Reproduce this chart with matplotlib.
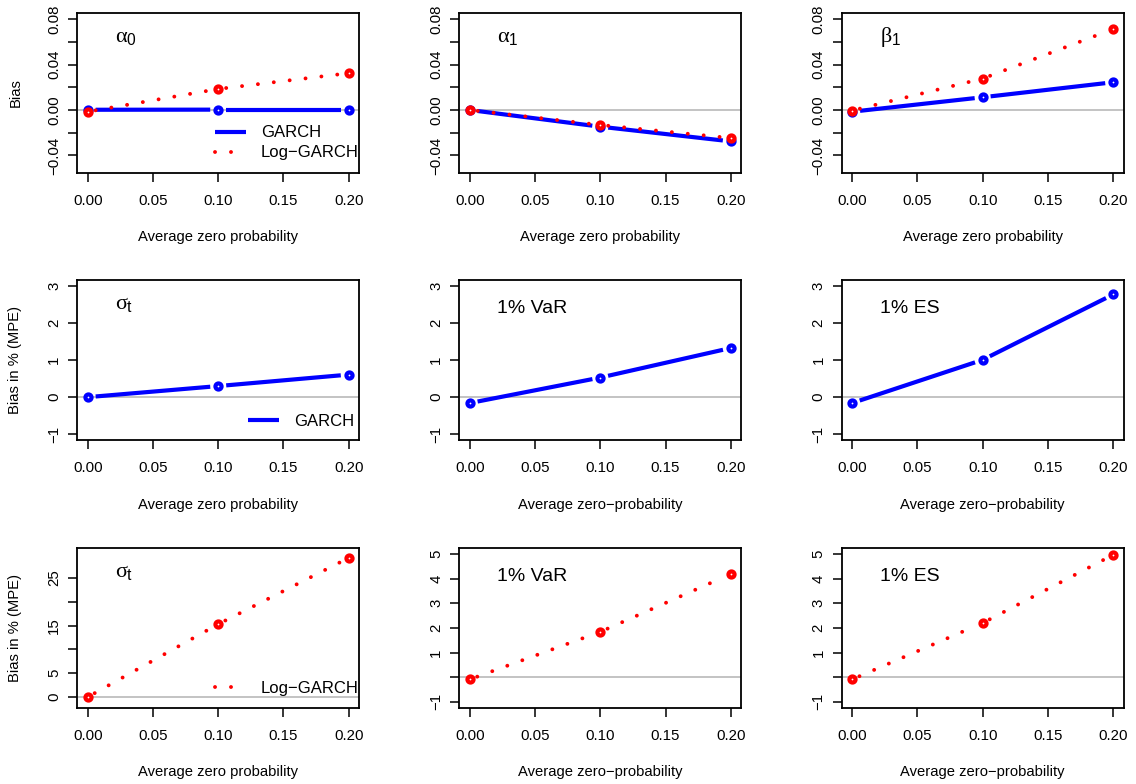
import numpy as np
import matplotlib
matplotlib.use("Agg")
import matplotlib.pyplot as plt
from matplotlib.lines import Line2D

plt.rcParams['font.family'] = 'Liberation Sans'
plt.rcParams['mathtext.fontset'] = 'custom'
plt.rcParams['mathtext.rm'] = 'Liberation Sans'
plt.rcParams['mathtext.it'] = 'Liberation Serif'

# average zero probability
zero_prob = [0.0, 0.1, 0.2]

# parameter bias (top row)
garch_alpha0 = [0.0002, 0.0003, 0.0003]
log_alpha0 = [-0.0015, 0.0185, 0.0324]
garch_alpha1 = [0.0, -0.0147, -0.0276]
log_alpha1 = [0.0, -0.0132, -0.0247]
garch_beta1 = [-0.0015, 0.0112, 0.0244]
log_beta1 = [-0.0005, 0.0276, 0.0712]

# MPE in %, GARCH (middle row)
garch_sigma = [0.0, 0.30, 0.61]
garch_var = [-0.16, 0.53, 1.33]
garch_es = [-0.16, 1.01, 2.78]

# MPE in %, Log-GARCH (bottom row)
log_sigma = [0.0, 15.3, 29.2]
log_var = [-0.09, 1.84, 4.19]
log_es = [-0.09, 2.2, 4.97]

xticks = [0.0, 0.05, 0.10, 0.15, 0.20]
xtick_labels = ["0.00", "0.05", "0.10", "0.15", "0.20"]
param_yticks = [-0.04, -0.02, 0.0, 0.02, 0.04, 0.06, 0.08]
param_ylabels = ["\u22120.04", "", "0.00", "", "0.04", "", "0.08"]
mpe_yticks = [-1, 0, 1, 2, 3]
mpe_ylabels = ["\u22121", "0", "1", "2", "3"]
sig_yticks = [0, 5, 10, 15, 20, 25]
sig_ylabels = ["0", "5", "", "15", "", "25"]
risk_yticks = [-1, 0, 1, 2, 3, 4, 5]
risk_ylabels = ["\u22121", "", "1", "2", "3", "4", "5"]

BLUE = '#0000FF'
RED = '#FF0000'
GRAY = '#BEBEBE'

solid_kw = dict(color=BLUE, lw=3.0, solid_capstyle='butt')
dot_kw = dict(color=RED, lw=2.8, linestyle=(0, (0.01, 4.1)), dash_capstyle='round')
GAP = 8  # px gap around points (R type="b")


def rlim(lo, hi):
    pad = 0.04 * (hi - lo)
    return lo - pad, hi + pad


def draw_b(ax, xs, ys, line_kw, color):
    pts = ax.transData.transform(np.column_stack([xs, ys]))
    inv = ax.transData.inverted()
    for p, q in zip(pts[:-1], pts[1:]):
        d = q - p
        u = d / np.hypot(*d)
        seg = inv.transform([p + u * GAP, q - u * GAP])
        ax.plot(seg[:, 0], seg[:, 1], **line_kw, zorder=3)
    ax.plot(xs, ys, ls='none', marker='o', ms=4.4, mew=3.0, mec=color,
            mfc='white', zorder=4)


fig = plt.figure(figsize=(11.36, 7.84), dpi=100)
lefts = [0.068, 0.4043, 0.7409]
bottoms = [0.7797, 0.4388, 0.0973]
W, H = 0.2482, 0.2035

panels = [
    # row, col, label, garch, loggarch, ylim, yticks, ylabels, xlabel
    (0, 0, r'$\alpha_{\mathrm{0}}$', garch_alpha0, log_alpha0, (-0.05, 0.08), param_yticks, param_ylabels, 'Average zero probability'),
    (0, 1, r'$\alpha_{\mathrm{1}}$', garch_alpha1, log_alpha1, (-0.05, 0.08), param_yticks, param_ylabels, 'Average zero probability'),
    (0, 2, r'$\beta_{\mathrm{1}}$', garch_beta1, log_beta1, (-0.05, 0.08), param_yticks, param_ylabels, 'Average zero probability'),
    (1, 0, r'$\sigma_{\mathrm{t}}$', garch_sigma, None, (-1, 3), mpe_yticks, mpe_ylabels, 'Average zero probability'),
    (1, 1, '1% VaR', garch_var, None, (-1, 3), mpe_yticks, mpe_ylabels, 'Average zero\u2212probability'),
    (1, 2, '1% ES', garch_es, None, (-1, 3), mpe_yticks, mpe_ylabels, 'Average zero\u2212probability'),
    (2, 0, r'$\sigma_{\mathrm{t}}$', None, log_sigma, (-1, 30), sig_yticks, sig_ylabels, 'Average zero probability'),
    (2, 1, '1% VaR', None, log_var, (-1, 5), risk_yticks, risk_ylabels, 'Average zero\u2212probability'),
    (2, 2, '1% ES', None, log_es, (-1, 5), risk_yticks, risk_ylabels, 'Average zero\u2212probability'),
]

for row, col, label, g, lg, ylim, yt, yl, xlab in panels:
    ax = fig.add_axes([lefts[col], bottoms[row], W, H])
    ax.set_xlim(*rlim(0, 0.2))
    ax.set_ylim(*rlim(*ylim))
    ax.axhline(0, color=GRAY, lw=1.3, zorder=1)
    if g is not None:
        draw_b(ax, zero_prob, g, solid_kw, BLUE)
    if lg is not None:
        draw_b(ax, zero_prob, lg, dot_kw, RED)

    ax.set_xticks(xticks)
    ax.set_xticklabels(xtick_labels)
    ax.set_yticks(yt)
    ax.set_yticklabels(yl, rotation=90, va='center')
    ax.tick_params(direction='out', length=6.5, width=1.1, labelsize=10.8)
    ax.tick_params(axis='x', pad=8.5)
    ax.tick_params(axis='y', pad=5)
    for s in ax.spines.values():
        s.set_linewidth(1.3)
    ax.set_xlabel(xlab, fontsize=10.6, labelpad=16.5)

    if label.startswith('$'):
        ax.text(0.135, 0.822, label, transform=ax.transAxes, fontsize=16, va='baseline', ha='left')
    else:
        ax.text(0.135, 0.795, label, transform=ax.transAxes, fontsize=14, va='baseline', ha='left')

    if col == 0:
        ax.set_ylabel('Bias' if row == 0 else 'Bias in % (MPE)', fontsize=10.6)
        ax.yaxis.set_label_coords(-0.195, 0.5)

    handles = []
    if row == 0 and col == 0:
        handles = [Line2D([], [], **solid_kw), Line2D([], [], **dot_kw)]
        names = ['GARCH', 'Log\u2212GARCH']
        anchor = (0.488, 0.1865)
    elif row == 1 and col == 0:
        handles = [Line2D([], [], **solid_kw)]
        names = ['GARCH']
        anchor = (0.605, 0.115)
    elif row == 2 and col == 0:
        handles = [Line2D([], [], **dot_kw)]
        names = ['Log\u2212GARCH']
        anchor = (0.488, 0.123)
    if handles:
        ax.legend(handles, names, loc='center left', bbox_to_anchor=anchor,
                  frameon=False, fontsize=12, borderpad=0, borderaxespad=0,
                  handlelength=1.86, handletextpad=0.9, labelspacing=0.3)

fig.savefig('out.png', dpi=100)
